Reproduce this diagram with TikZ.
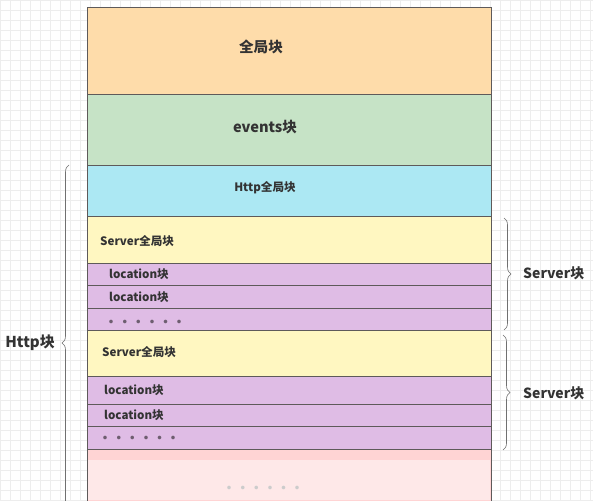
\documentclass[tikz,border=0pt]{standalone}
\usepackage{fontspec}
\newfontfamily\cjk{Noto Sans CJK SC}
\usetikzlibrary{decorations.pathreplacing}

\definecolor{globalfill}{HTML}{FEDCAA}
\definecolor{eventsfill}{HTML}{C6E3C6}
\definecolor{httpfill}{HTML}{ACE8F3}
\definecolor{serverfill}{HTML}{FFF7C1}
\definecolor{locfill}{HTML}{DFBCE5}
\definecolor{morefill}{HTML}{FFD4D4}
\definecolor{morefade}{HTML}{FEE8E8}
\definecolor{bandline}{HTML}{5E5A5A}
\definecolor{braceline}{HTML}{707070}
\definecolor{labeltext}{HTML}{333333}
\definecolor{dotcolor}{HTML}{6E5E70}
\definecolor{gridline}{HTML}{EDEDED}

\newcommand{\onedot}{\makebox[13.6pt][l]{●}}
\newcommand{\dotrow}{\onedot\onedot\onedot\onedot\onedot\onedot}

\tikzset{
  band/.style={rectangle, draw=bandline, line width=1pt, minimum width=404pt, anchor=north west, inner sep=0pt},
  tag/.style={font=\cjk\bfseries\fontsize{11.6}{13}\selectfont, text=labeltext, inner sep=0pt},
  bigtag/.style={font=\cjk\bfseries\fontsize{14.6}{16}\selectfont, text=labeltext, inner sep=0pt},
  dots/.style={font=\cjk\fontsize{4}{5}\selectfont, text=dotcolor, inner sep=0pt, anchor=west},
  curly/.style={decorate, decoration={brace, amplitude=7pt}, draw=braceline, line width=0.6pt}
}

\begin{document}
\begin{tikzpicture}[x=1pt, y=-1pt]
            \clip (0,0) rectangle (593,500);
            % Background grid
            \fill[white] (0,0) rectangle (593,500);
            \draw[gridline, line width=0.4pt, step=10pt] (0,0) grid (593,500);

            % Top blocks
            \node[band, fill=globalfill, minimum height=87pt] (global) at (87,7) {};
            \node[band, fill=eventsfill, minimum height=71pt] (events) at (87,94) {};
            \node[band, fill=httpfill, minimum height=51pt] (httpglobal) at (87,165) {};

            % First server
            \node[band, fill=serverfill, minimum height=47pt] (srvA) at (87,216) {};
            \node[band, fill=locfill, minimum height=22pt] (locA1) at (87,263) {};
            \node[band, fill=locfill, minimum height=23pt] (locA2) at (87,285) {};
            \node[band, fill=locfill, minimum height=22pt] (moreA) at (87,308) {};

            % Second server
            \node[band, fill=serverfill, minimum height=46pt] (srvB) at (87,330) {};
            \node[band, fill=locfill, minimum height=28pt] (locB1) at (87,376) {};
            \node[band, fill=locfill, minimum height=22pt] (locB2) at (87,404) {};
            \node[band, fill=locfill, minimum height=23pt] (moreB) at (87,426) {};

            % More servers
            \node[band, fill=morefill, minimum height=70pt] (moreSrv) at (87,449) {};
            \fill[morefade] (88,460) rectangle (490,500);

            % Block labels
            \node[bigtag] (globaltext) at (261,47) {全局块};
            \node[bigtag] (eventstext) at (265,127) {events块};
            \node[tag] (httptext) at (265,188) {Http全局块};
            \node[tag, anchor=west] (srvAtext) at (100,241) {Server全局块};
            \node[tag, anchor=west] (locA1text) at (109,274) {location块};
            \node[tag, anchor=west] (locA2text) at (109,297) {location块};
            \node[dots] (moreAtext) at (109,322) {\dotrow};
            \node[dots] (moreBtext) at (103,438) {\dotrow};
            \node[tag, anchor=west] (srvBtext) at (102,352) {Server全局块};
            \node[tag, anchor=west] (locB1text) at (104,390) {location块};
            \node[tag, anchor=west] (locB2text) at (104,415) {location块};
            \node[dots, text=gray!40] (moreSrvtext) at (227,488) {\dotrow};

            % Braces
            \coordinate (httpbot) at (69,521);
            \coordinate (httptop) at (69,165);
            \coordinate (srvAtop) at (504,218);
            \coordinate (srvAbot) at (504,330);
            \coordinate (srvBtop) at (503,335);
            \coordinate (srvBbot) at (503,450);
            \draw[curly] (httpbot) -- (httptop); % Http
            \draw[curly] (srvAtop) -- (srvAbot); % Server A
            \draw[curly] (srvBtop) -- (srvBbot); % Server B

            % Brace labels
            \node[bigtag, font=\cjk\bfseries\fontsize{15}{17}\selectfont, anchor=east] (httplabel) at (55,343) {Http块};
            \node[tag, font=\cjk\bfseries\fontsize{14}{16}\selectfont, anchor=west] (srvAlabel) at (523,273) {Server块};
            \node[tag, font=\cjk\bfseries\fontsize{14}{16}\selectfont, anchor=west] (srvBlabel) at (523,393) {Server块};

        \end{tikzpicture}
\end{document}
